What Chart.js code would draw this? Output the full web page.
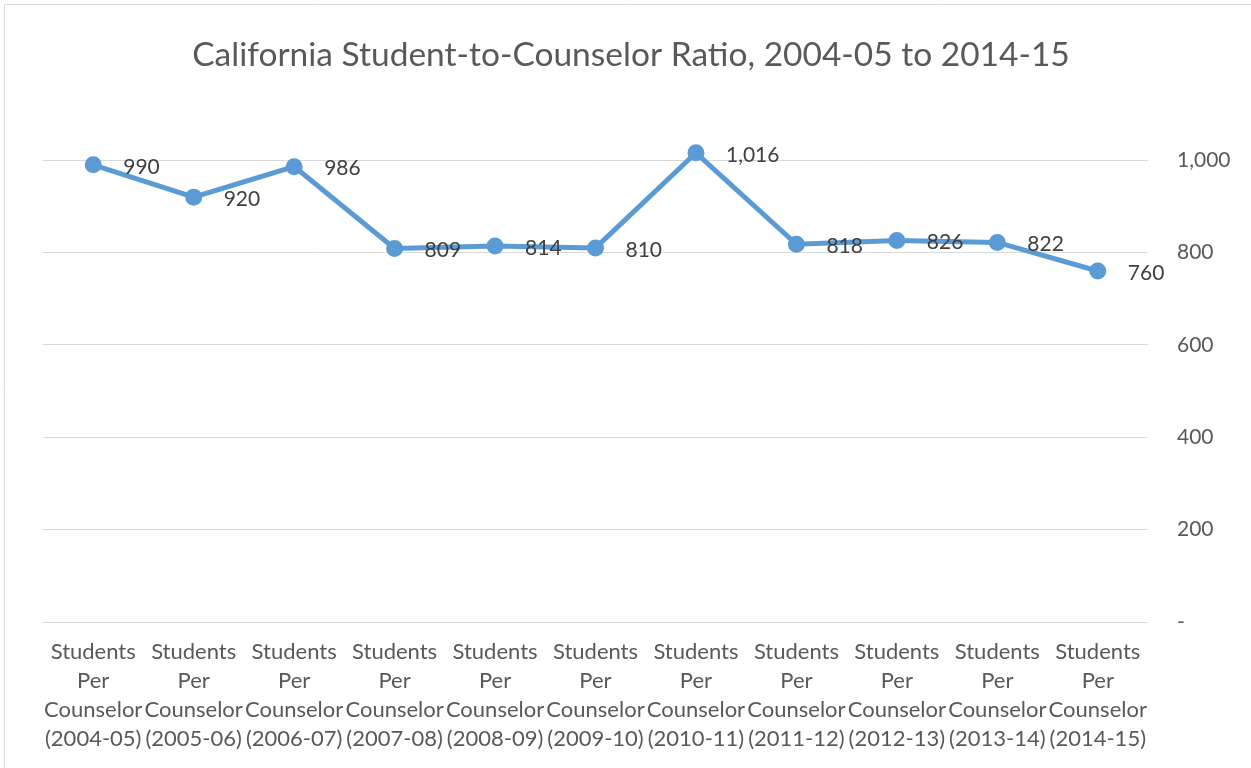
<!DOCTYPE html>
<html>
<head>
<meta charset="utf-8">
<script src="https://cdn.jsdelivr.net/npm/chart.js@4/dist/chart.umd.min.js"></script>
<style>
  body { margin: 0; background: #fff; }
  canvas { display: block; }
</style>
</head>
<body>
<canvas id="ratioChart" width="1251" height="768"></canvas>
<script>
// -------------------------
// Data
// -------------------------
const years = ['2004-05','2005-06','2006-07','2007-08','2008-09','2009-10','2010-11','2011-12','2012-13','2013-14','2014-15'];
const ratios = [990, 920, 986, 809, 814, 810, 1016, 818, 826, 822, 760];
const yTicks = [0, 200, 400, 600, 800, 1000];

const titleText = 'California Student-to-Counselor Ratio, 2004-05 to 2014-15';
const labels = years.map(y => ['Students', 'Per', 'Counselor', '(' + y + ')']);
const FONT = "Lato, 'Open Sans', sans-serif";

// -------------------------
// Small plugins: frame + title + value labels
// -------------------------
const framePlugin = {
    id: 'frame',
    beforeDraw(chart) {
        const ctx = chart.ctx;
        ctx.save();
        ctx.fillStyle = '#fff';
        ctx.fillRect(0, 0, chart.width, chart.height);
        ctx.strokeStyle = '#d9d9d9';
        ctx.lineWidth = 1;
        ctx.beginPath();
        ctx.moveTo(4.5, chart.height);
        ctx.lineTo(4.5, 4.5);
        ctx.lineTo(chart.width, 4.5);
        ctx.stroke();

        // title, centred on the whole frame (not on the padded area)
        ctx.font = '33.5px ' + FONT;
        ctx.fillStyle = '#595959';
        ctx.textAlign = 'center';
        ctx.textBaseline = 'middle';
        ctx.fillText(titleText, 631, 55);
        ctx.restore();
    }
};

const valueLabels = {
    id: 'valueLabels',
    afterDatasetsDraw(chart) {
        const ctx = chart.ctx;
        const meta = chart.getDatasetMeta(0);
        ctx.save();
        ctx.font = '21px ' + FONT;
        ctx.fillStyle = '#404040';
        ctx.textAlign = 'left';
        ctx.textBaseline = 'middle';
        meta.data.forEach((pt, i) => {
            ctx.fillText(ratios[i].toLocaleString('en-US'), pt.x + 30, pt.y + 2);
        });
        ctx.restore();
    }
};

// -------------------------
// Chart
// -------------------------
const ctx = document.getElementById('ratioChart').getContext('2d');
const ratioChart = new Chart(ctx, {
    type: 'line',
    data: {
        labels: labels,
        datasets: [{
            label: 'Students Per Counselor',
            data: ratios,
            borderColor: '#5b9bd5',
            backgroundColor: '#5b9bd5',
            borderWidth: 5,
            pointRadius: 6,
            pointHoverRadius: 6,
            tension: 0,
            fill: false
        }]
    },
    options: {
        responsive: false,
        animation: false,
        layout: { padding: { left: 43, right: 0, top: 114, bottom: 0 } },
        plugins: {
            legend: { display: false },
            tooltip: { enabled: false },
            title: { display: false }
        },
        scales: {
            x: {
                offset: true,
                grid: { display: false },
                border: { display: false },
                ticks: {
                    color: '#595959',
                    font: { family: FONT, size: 22, lineHeight: 1.32 },
                    maxRotation: 0,
                    minRotation: 0,
                    autoSkip: false,
                    padding: 7
                },
                afterFit(scale) { scale.height = 146; }
            },
            y: {
                position: 'right',
                min: 0,
                max: 1100,
                grid: { color: '#d9d9d9', lineWidth: 1, drawTicks: false },
                border: { display: false },
                ticks: {
                    stepSize: 200,
                    color: '#595959',
                    font: { family: FONT, size: 21 },
                    padding: 29,
                    callback: v => v === 0 ? '-' : v.toLocaleString('en-US')
                },
                afterBuildTicks(scale) {
                    scale.ticks = yTicks.map(v => ({ value: v }));
                },
                afterFit(scale) { scale.width = 103; }
            }
        }
    },
    plugins: [framePlugin, valueLabels]
});
</script>
</body>
</html>
